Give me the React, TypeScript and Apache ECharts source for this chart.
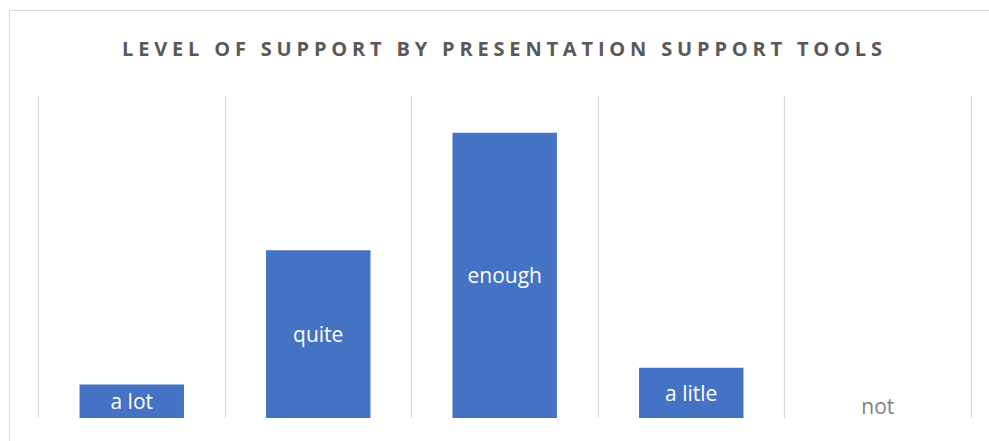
import React, { useEffect, useRef } from "react";
import * as echarts from "echarts";

const TITLE = "LEVEL OF SUPPORT BY PRESENTATION SUPPORT TOOLS";
const categories = ["a lot", "quite", "enough", "a litle", "not"];
// share of respondents (%)
const shares = [6.25, 31.25, 53.13, 9.38, 0];
const valueMax = 60;

const TITLE_FONT = "Open Sans";
const TITLE_SIZE = 20;
const TITLE_LEFT = 122;
const TITLE_RIGHT = 882;

export default function App() {
  const ref = useRef<HTMLDivElement>(null);

  useEffect(() => {
    document.body.style.margin = "0";
    const el = ref.current!;
    const chart = echarts.init(el, null, { renderer: "svg" });

    const data = shares.map((v, i) =>
      v === 0
        ? {
            value: v,
            name: categories[i],
            label: { position: "top", color: "#7f7f7f", distance: 2 },
          }
        : { value: v, name: categories[i] }
    );

    chart.setOption({
      animation: false,
      backgroundColor: "#ffffff",
      title: {
        text: TITLE,
        left: TITLE_LEFT,
        top: 38,
        padding: 0,
        textStyle: {
          fontFamily: TITLE_FONT,
          fontWeight: "bold",
          fontSize: TITLE_SIZE,
          color: "#595959",
        },
      },
      grid: { left: 38.5, right: 18, top: 96, bottom: 23 },
      xAxis: {
        type: "category",
        data: categories,
        axisLine: { show: false },
        axisTick: { show: false },
        axisLabel: { show: false },
        splitLine: { show: true, lineStyle: { color: "#d9d9d9", width: 1.3 } },
      },
      yAxis: {
        type: "value",
        min: 0,
        max: valueMax,
        show: false,
        splitLine: { show: false },
      },
      series: [
        {
          type: "bar",
          data,
          barCategoryGap: "44%",
          itemStyle: { color: "#4472c4" },
          label: {
            show: true,
            position: "inside",
            formatter: (p: any) => p.name,
            color: "#ffffff",
            fontFamily: "Open Sans",
            fontSize: 21,
          },
        },
      ],
      graphic: [
        {
          type: "rect",
          silent: true,
          z: -10,
          shape: { x: 9.5, y: 10.5, width: 1200, height: 800 },
          style: { fill: "none", stroke: "#d9d9d9", lineWidth: 1 },
        },
      ],
    });

    // widen the title with letter spacing like the original
    const canvas = document.createElement("canvas");
    const ctx = canvas.getContext("2d")!;
    ctx.font = `bold ${TITLE_SIZE}px '${TITLE_FONT}'`;
    const w = ctx.measureText(TITLE).width;
    const spacing = (TITLE_RIGHT - TITLE_LEFT - w) / (TITLE.length - 1);
    el.querySelectorAll("text").forEach((t) => {
      if (t.textContent === TITLE) {
        (t as SVGTextElement).style.letterSpacing = `${spacing}px`;
      }
    });

    return () => chart.dispose();
  }, []);

  return (
    <div
      ref={ref}
      style={{ position: "fixed", left: 0, top: 0, width: 989, height: 441 }}
    />
  );
}
